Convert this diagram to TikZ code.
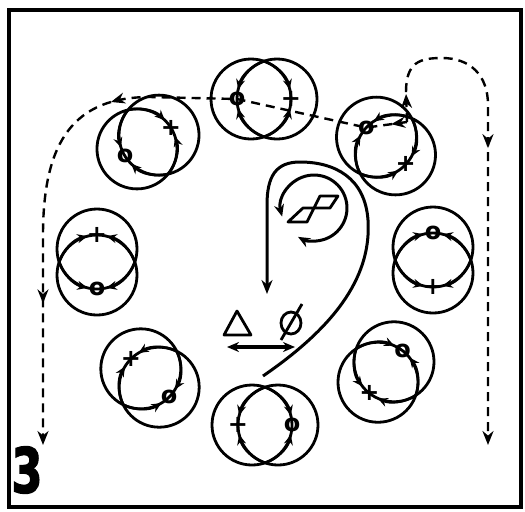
\documentclass[tikz,border=0pt]{standalone}
\usepackage{fontspec}
\usepackage{graphicx}
\newfontfamily\heavyfont{DejaVu Sans}[BoldFeatures={FakeBold=2.5}]
\newfontfamily\markfont{DejaVu Sans}
\usetikzlibrary{arrows.meta,calc,decorations.markings}

\begin{document}
\begin{tikzpicture}[
    x=0.5pt, y=-0.5pt,
    ring/.style={line width=1.4pt},
    lensarrow/.style={line width=1.3pt, -{Stealth[length=5pt,width=4.5pt]}},
    marker/.style={inner sep=0pt, font=\markfont\bfseries\fontsize{12}{12}\selectfont},
    dashpath/.style={line width=1.2pt, dash pattern=on 4.5pt off 3pt},
    tip/.style={-{Stealth[length=7pt,width=5.5pt]}},
    loopline/.style={line width=1.5pt},
    symbol/.style={line width=1.4pt, line join=round}
]
\useasboundingbox (0,0) rectangle (525,511);

% frame
\draw[line width=1.6pt] (9,10) rectangle (521,507);

% the eight pairs of rings
\foreach \cx/\cy/\ang [count=\i] in {264/99/0, 386/146/43, 433/260/90, 386/372/128, 265/425/180, 150/378/225, 97/262/270, 148/142/328} {
  \coordinate (p\i) at (\cx,\cy);
  \coordinate (a\i) at ($(p\i)+({\ang+180}:13)$);
  \coordinate (b\i) at ($(p\i)+(\ang:13)$);
  \draw[ring] (a\i) circle[radius=40];
  \draw[ring] (b\i) circle[radius=40];
  \begin{scope}[shift={(a\i)}]
    \draw[lensarrow] ({\ang-71}:40) arc[start angle=\ang-71, end angle=\ang-14, radius=40];
    \draw[lensarrow] ({\ang+71}:40) arc[start angle=\ang+71, end angle=\ang+14, radius=40];
  \end{scope}
  \begin{scope}[shift={(b\i)}]
    \draw[lensarrow] ({\ang+109}:40) arc[start angle=\ang+109, end angle=\ang+166, radius=40];
    \draw[lensarrow] ({\ang+251}:40) arc[start angle=\ang+251, end angle=\ang+194, radius=40];
  \end{scope}
  \node[marker] (plus\i) at ($(p\i)+(\ang:27)$) {+};
  \node[marker] (o\i) at ($(p\i)+({\ang+180}:27)$) {o};
}

% dashed runs
\coordinate (fork) at (407,122);
\draw[dashpath, tip, postaction={decorate, decoration={markings,
    mark=at position 8pt with {\arrow{Stealth[length=7pt,width=5.5pt]}},
    mark=at position 150pt with {\arrow{Stealth[length=7pt,width=5.5pt]}},
    mark=at position 265pt with {\arrow{Stealth[length=7pt,width=5.5pt]}}}}]
  (fork) -- (o2.center) -- (o1.center) -- (150,97) .. controls (75,97) and (43,140) .. (43,235) -- (43,445);
\draw[dashpath, tip, postaction={decorate, decoration={markings,
    mark=at position 14pt with {\arrow{Stealth[length=7pt,width=5.5pt]}},
    mark=at position 103pt with {\arrow{Stealth[length=7pt,width=5.5pt]}}}}]
  (fork) -- (406,92) .. controls (406,62) and (420,58) .. (442,58) .. controls (470,58) and (488,75) .. (488,105) -- (488,445);

% central loop
\coordinate (loopstart) at (263,376);
\coordinate (loopend) at (267,294);
\draw[loopline, tip] (loopstart) .. controls (330,330) and (372,280) .. (368,220) .. controls (365,178) and (335,162) .. (300,162) .. controls (276,162) and (267,176) .. (267,205) -- (loopend);

% turning arrow and symbol
\coordinate (spin) at (314,208);
\draw[loopline, {Stealth[length=6pt,width=5pt]}-{Stealth[length=6pt,width=5pt]}] ($(spin)+(165:33)$) arc[start angle=165, end angle=479, radius=33];
\draw[symbol] (320,196) -- (338,196) -- (330,208) -- (303,208) -- (288,222) -- (307,222) -- cycle;

% triangle, empty set, swap
\draw[symbol] (224,335) -- (251,335) -- (237,311) -- cycle;
\coordinate (empty) at (291,323);
\draw[symbol] (empty) ellipse[x radius=10, y radius=11];
\draw[symbol] (281,340) -- (302,304);
\coordinate (swapL) at (227,347);
\coordinate (swapR) at (295,347);
\draw[line width=1.6pt, {Stealth[length=6pt,width=5pt]}-{Stealth[length=6pt,width=5pt]}] (swapL) -- (swapR);

% figure number
\node[font=\heavyfont\bfseries\fontsize{31}{31}\selectfont, inner sep=0pt] (num) at (27,470) {\scalebox{0.72}[1]{3}};
\end{tikzpicture}
\end{document}
